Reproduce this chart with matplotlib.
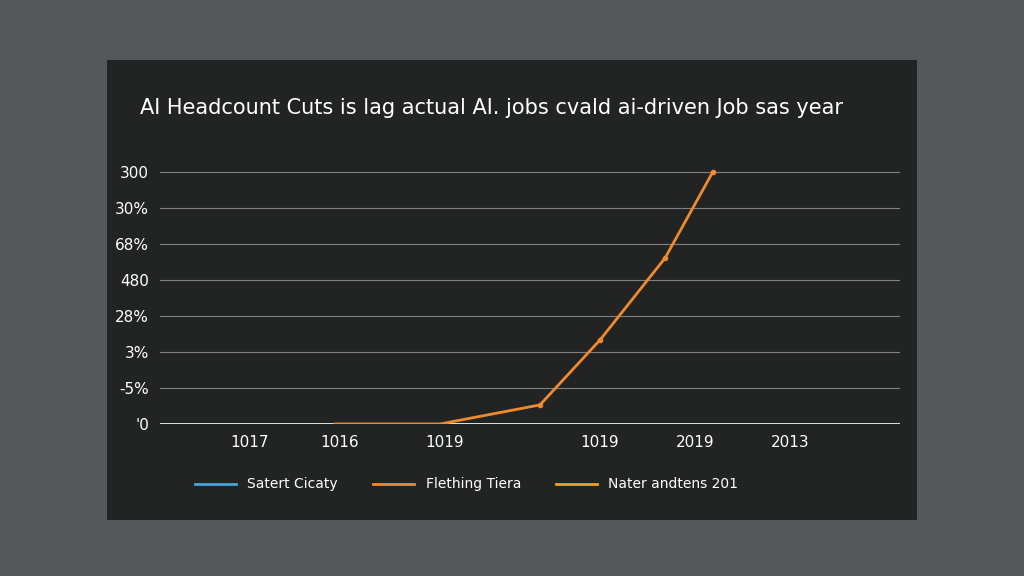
import matplotlib.pyplot as plt
from matplotlib.patches import Rectangle

# data
title = "AI Headcount Cuts is lag actual AI. jobs cvald ai-driven Job sas year"
ytick_labels = ["'0", "-5%", "3%", "28%", "480", "68%", "30%", "300"]
xtick_pos = [0, 0.9, 1.95, 3.5, 4.45, 5.4]
xtick_labels = ["1017", "1016", "1019", "1019", "2019", "2013"]
line_x = [0.85, 1.9, 2.9, 3.5, 4.15, 4.63]
line_y = [0, 0, 0.53, 2.33, 4.6, 7.0]
series_names = ["Satert Cicaty", "Flething Tiera", "Nater andtens 201"]
series_colors = ["#4aa3d8", "#f08a30", "#f0a020"]

fig = plt.figure(figsize=(10.24, 5.76), dpi=100)
fig.patch.set_facecolor("#55585a")

# dark translucent panel
fig.patches.append(Rectangle((107 / 1024, 1 - 520 / 576), 810 / 1024, 460 / 576,
                             transform=fig.transFigure, facecolor="#161616",
                             alpha=0.8, zorder=0))
fig.text(140 / 1024, 1 - 108 / 576, title, color="white", fontsize=15,
         va="center", ha="left", zorder=5)

ax = fig.add_axes([160 / 1024, 1 - 424 / 576, 740 / 1024, 256 / 576])
ax.set_zorder(2)
ax.set_facecolor("none")
ax.set_xlim(-0.9, 6.5)
ax.set_ylim(0, 7.1)
for y in range(8):
    ax.axhline(y, color="#aaaaaa", lw=0.8, alpha=0.7, zorder=1)
ax.axhline(0, color="white", lw=1.2, zorder=2)

ax.plot(line_x, line_y, color=series_colors[1], lw=2, zorder=3)
ax.plot(line_x[2:], line_y[2:], "o", color=series_colors[1], ms=3, zorder=3)

for name, c in zip(series_names, series_colors):
    ax.plot([], [], color=c, lw=2, label=name)
leg = ax.legend(loc="upper left", bbox_to_anchor=(0.03, -0.16), ncol=3,
                frameon=False, fontsize=10, labelcolor="white",
                columnspacing=2.5, handlelength=3)

ax.set_yticks(range(8))
ax.set_yticklabels(ytick_labels)
ax.set_xticks(xtick_pos)
ax.set_xticklabels(xtick_labels)
ax.tick_params(colors="white", labelsize=11, length=0, pad=8)
for s in ax.spines.values():
    s.set_visible(False)

fig.savefig("out.png", dpi=100, facecolor=fig.get_facecolor())
